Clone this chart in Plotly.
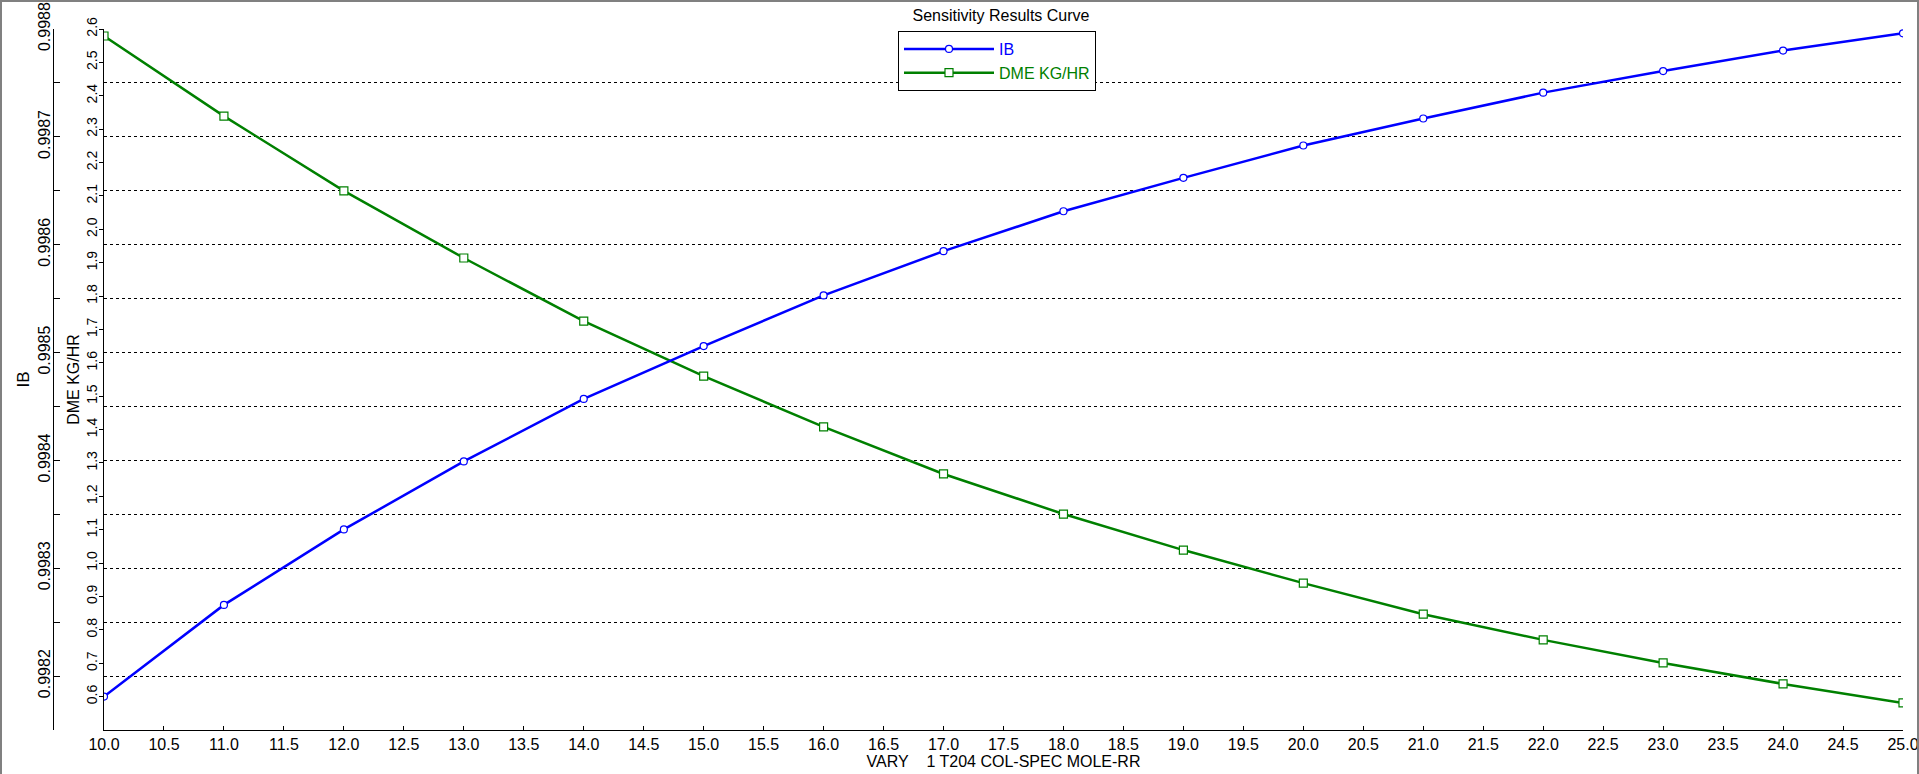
import plotly.graph_objects as go

# ---- data ----
rr = [10, 11, 12, 13, 14, 15, 16, 17, 18, 19, 20, 21, 22, 23, 24, 25]
ib = [0.998181, 0.998266, 0.998336, 0.998399, 0.998457, 0.998506, 0.998553, 0.998594,
      0.998631, 0.998662, 0.998692, 0.998717, 0.998741, 0.998761, 0.998780, 0.998796]
dme = [2.579, 2.339, 2.115, 1.914, 1.725, 1.560, 1.408, 1.267,
       1.147, 1.039, 0.940, 0.847, 0.770, 0.701, 0.638, 0.581]

x_ticks = [10 + 0.5 * i for i in range(31)]
x_ticktext = [f"{v:.1f}" for v in x_ticks]
dme_ticks = [round(0.6 + 0.1 * i, 1) for i in range(21)]
dme_ticktext = [f"{v:.1f}" for v in dme_ticks]
ib_ticks = [round(0.99815 + 0.00005 * i, 5) for i in range(14)]
ib_ticktext = [f"{v:.4f}" if i % 2 == 1 else "" for i, v in enumerate(ib_ticks)]

FONT = "Liberation Sans, Arial, sans-serif"
W, H = 1919, 774
ML, MR, MT, MB = 53, 16, 29, 44
plot_w = W - ML - MR
plot_h = H - MT - MB
x0 = (104 - ML) / plot_w

fig = go.Figure()
fig.add_trace(go.Scatter(
    x=rr, y=ib, name='<span style="color:#0000ff">IB</span>', yaxis="y2",
    mode="lines+markers",
    line=dict(color="#0000ff", width=2.5),
    marker=dict(symbol="circle", size=7, color="white", line=dict(color="#0000ff", width=1.2)),
))
fig.add_trace(go.Scatter(
    x=rr, y=dme, name='<span style="color:#008000">DME KG/HR</span>', yaxis="y",
    mode="lines+markers",
    line=dict(color="#008000", width=2.5),
    marker=dict(symbol="square", size=8, color="white", line=dict(color="#008000", width=1.2)),
))

fig.update_layout(
    width=W, height=H,
    margin=dict(l=ML, r=MR, t=MT, b=MB, autoexpand=False),
    paper_bgcolor="white", plot_bgcolor="white",
    font=dict(family=FONT, color="black", size=15),
    title=dict(text="Sensitivity Results Curve", x=1001 / W, xanchor="center",
               y=1 - 15 / H, yanchor="middle", yref="container", automargin=False,
               font=dict(size=16, family=FONT, color="black")),
    showlegend=True,
    legend=dict(x=(898 - ML) / plot_w, y=1 - 2 / plot_h, xanchor="left", yanchor="top",
                bordercolor="black", borderwidth=1, bgcolor="white",
                font=dict(size=16, family=FONT), itemwidth=90,
                tracegroupgap=0),
    xaxis=dict(domain=[x0, 1], range=[10, 25], tickvals=x_ticks, ticktext=x_ticktext,
               ticks="inside", ticklen=4, tickcolor="black", showline=True, linecolor="black",
               linewidth=1, showgrid=False, zeroline=False, automargin=False,
               tickfont=dict(size=16, family=FONT),
               title=dict(text="VARY&nbsp;&nbsp;&nbsp;&nbsp;1 T204 COL-SPEC MOLE-RR", standoff=0,
                          font=dict(size=16, family=FONT))),
    yaxis=dict(range=[0.5, 2.6], tickvals=dme_ticks, ticktext=dme_ticktext, anchor="x",
               side="left", tickangle=-90, ticks="outside", ticklen=4, tickcolor="black",
               showline=True, linecolor="black", linewidth=1, showgrid=False, zeroline=False,
               automargin=False, ticklabelstandoff=-4,
               tickfont=dict(size=14, family=FONT),
               title=dict(text="DME KG/HR", standoff=0, font=dict(size=16, family=FONT))),
    yaxis2=dict(range=[0.99815, 0.99880001], tickvals=ib_ticks, ticktext=ib_ticktext,
                overlaying="y", anchor="free", position=0, side="left", tickangle=-90,
                ticks="inside", ticklen=6, tickcolor="black", showline=True, linecolor="black",
                linewidth=1, showgrid=True, gridcolor="black", gridwidth=1, griddash="3px,3px",
                zeroline=False, automargin=False, ticklabelstandoff=-3,
                tickfont=dict(size=16, family=FONT),
                title=dict(text="IB", standoff=0, font=dict(size=17, family=FONT))),
)

# window frame
fx = lambda px: (px - ML) / plot_w
fy = lambda py: (H - MB - py) / plot_h
fig.add_shape(type="line", xref="paper", yref="paper", x0=fx(1), x1=fx(1), y0=fy(H), y1=fy(0),
              line=dict(color="#808080", width=2))
fig.add_shape(type="line", xref="paper", yref="paper", x0=fx(1918), x1=fx(1918), y0=fy(H), y1=fy(0),
              line=dict(color="#808080", width=2))
fig.add_shape(type="line", xref="paper", yref="paper", x0=fx(0), x1=fx(W), y0=fy(1), y1=fy(1),
              line=dict(color="#808080", width=2))

fig.write_html("out.html", config={"displayModeBar": False},
               post_script="document.body.style.margin='0';")
